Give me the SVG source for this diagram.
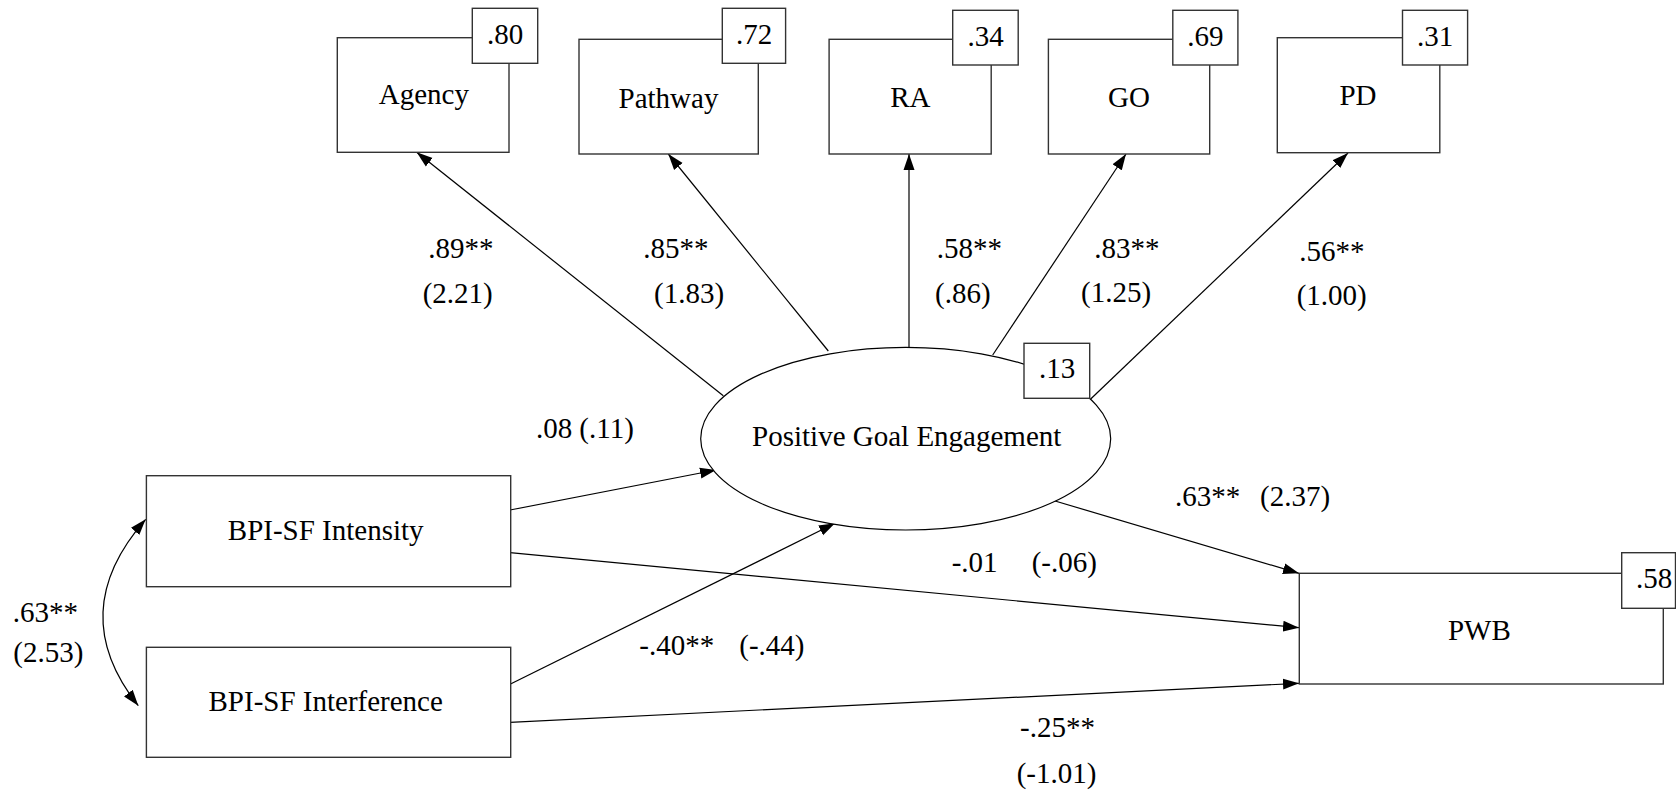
<svg xmlns="http://www.w3.org/2000/svg" width="1676" height="791" viewBox="0 0 1676 791">
<style>
text{font-family:"Liberation Serif","Times New Roman",serif;font-size:29px;fill:#000}
.c{text-anchor:middle}
.box{fill:#fff;stroke:#333;stroke-width:1.4}
.ln{fill:none;stroke:#000;stroke-width:1.2}
</style>
<defs>
<marker id="ah" markerUnits="userSpaceOnUse" markerWidth="17" markerHeight="12" refX="16" refY="6" orient="auto-start-reverse">
<path d="M0,0.5 L16,6 L0,11.5 z" fill="#000"/>
</marker>
</defs>
<rect width="1676" height="791" fill="#fff"/>
<g id="connectors">
<path class="ln" d="M723.3,395.7 L416.7,152.3" marker-end="url(#ah)"/>
<path class="ln" d="M828.3,351 L668.3,154" marker-end="url(#ah)"/>
<path class="ln" d="M909,347.4 L909,154" marker-end="url(#ah)"/>
<path class="ln" d="M992.7,355 L1126,154" marker-end="url(#ah)"/>
<path class="ln" d="M1090.7,399 L1348,153" marker-end="url(#ah)"/>
<path class="ln" d="M510,510 L716,470" marker-end="url(#ah)"/>
<path class="ln" d="M510,684.3 L835,523.3" marker-end="url(#ah)"/>
<path class="ln" d="M1051.7,500 L1299,573.3" marker-end="url(#ah)"/>
<path class="ln" d="M510,552.7 L1299,627.7" marker-end="url(#ah)"/>
<path class="ln" d="M510,722.3 L1299,683.3" marker-end="url(#ah)"/>
<path class="ln" d="M145.7,519.3 Q64,612 138.3,705.7" marker-start="url(#ah)" marker-end="url(#ah)"/>
</g>
<g id="agency">
<rect class="box" x="337.3" y="37.7" width="171.7" height="114.6"/>
<text class="c" x="423.8" y="104">Agency</text>
<rect class="box" x="472.3" y="8.3" width="65.4" height="55"/>
<text class="c" x="505" y="43.5">.80</text>
</g>
<g id="pathway">
<rect class="box" x="579" y="39.3" width="179.3" height="114.7"/>
<text class="c" x="668.5" y="108">Pathway</text>
<rect class="box" x="722.3" y="8.3" width="63.3" height="55"/>
<text class="c" x="754" y="43.5">.72</text>
</g>
<g id="ra">
<rect class="box" x="829.1" y="39.3" width="162.1" height="114.7"/>
<text class="c" x="910.4" y="107.3">RA</text>
<rect class="box" x="952.7" y="10.3" width="65.5" height="54.7"/>
<text class="c" x="985.5" y="46">.34</text>
</g>
<g id="go">
<rect class="box" x="1048.4" y="39.3" width="161.3" height="114.7"/>
<text class="c" x="1129" y="107.3">GO</text>
<rect class="box" x="1172.8" y="10.3" width="65.1" height="54.7"/>
<text class="c" x="1205.3" y="46">.69</text>
</g>
<g id="pd">
<rect class="box" x="1277.3" y="37.7" width="162.5" height="115"/>
<text class="c" x="1358" y="105">PD</text>
<rect class="box" x="1402.5" y="10.3" width="65.1" height="54.7"/>
<text class="c" x="1435" y="46">.31</text>
</g>
<g id="pge">
<ellipse cx="905.7" cy="438.7" rx="205" ry="91.3" fill="#fff" stroke="#000" stroke-width="1.2"/>
<text class="c" x="906.7" y="446">Positive Goal Engagement</text>
<rect class="box" x="1024" y="343.3" width="65.7" height="55"/>
<text class="c" x="1057" y="378.3">.13</text>
</g>
<g id="intensity">
<rect class="box" x="146.4" y="475.7" width="364.3" height="111"/>
<text class="c" x="325.7" y="540">BPI-SF Intensity</text>
</g>
<g id="interference">
<rect class="box" x="146.4" y="647.3" width="364.3" height="110"/>
<text class="c" x="325.7" y="710.7">BPI-SF Interference</text>
</g>
<g id="pwb">
<rect class="box" x="1299.3" y="573.3" width="364" height="110.7"/>
<text class="c" x="1479.3" y="640">PWB</text>
<rect class="box" x="1621.7" y="552.7" width="53.8" height="55.6"/>
<text x="1636" y="588.3">.58</text>
</g>
<g id="labels">
<text x="428.3" y="257.7">.89**</text>
<text x="422.7" y="303">(2.21)</text>
<text x="643.3" y="257.7">.85**</text>
<text x="654" y="303">(1.83)</text>
<text x="936.7" y="257.7">.58**</text>
<text x="935" y="303">(.86)</text>
<text x="1094.3" y="257.7">.83**</text>
<text x="1081" y="302">(1.25)</text>
<text x="1299.3" y="261">.56**</text>
<text x="1296.7" y="305">(1.00)</text>
<text x="536" y="438.3">.08<tspan x="579.3">(.11)</tspan></text>
<text x="1175" y="506">.63**<tspan x="1260">(2.37)</tspan></text>
<text x="951.7" y="571.7">-.01<tspan x="1031.7">(-.06)</tspan></text>
<text x="639.3" y="655">-.40**<tspan x="739.3">(-.44)</tspan></text>
<text x="1020" y="736.7">-.25**</text>
<text x="1016.7" y="783.3">(-1.01)</text>
<text x="12.7" y="621.7">.63**</text>
<text x="13.3" y="661.7">(2.53)</text>
</g>
</svg>
